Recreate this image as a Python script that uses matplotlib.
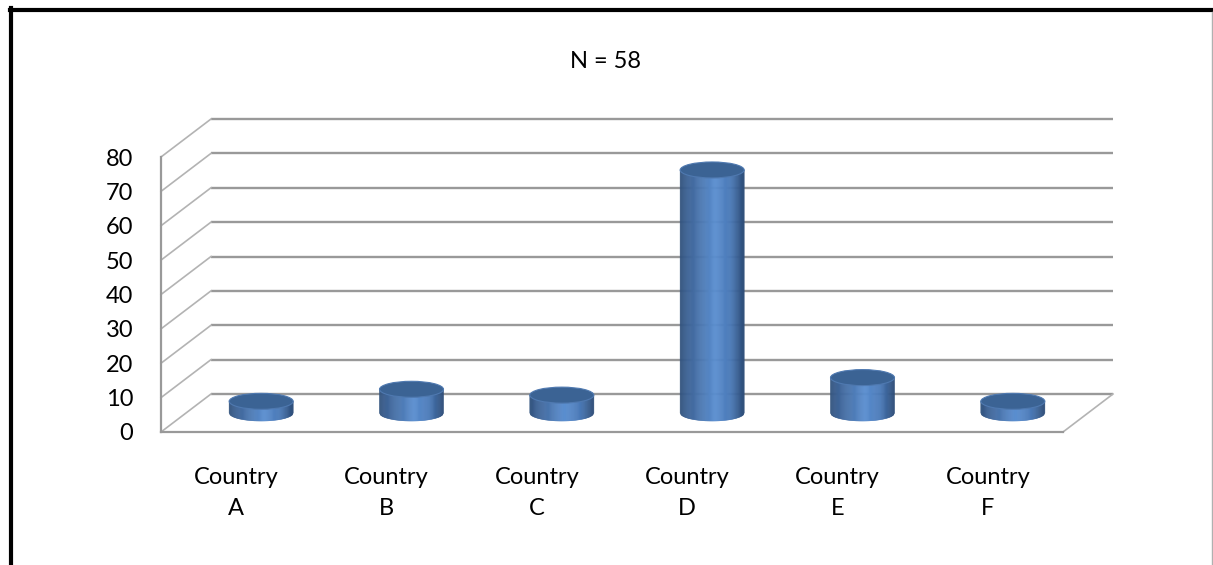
import numpy as np
import matplotlib.pyplot as plt
from matplotlib.collections import PolyCollection
from matplotlib.patches import Ellipse
from matplotlib.colors import LinearSegmentedColormap
from matplotlib.lines import Line2D

plt.rcParams['font.family'] = ['Lato', 'DejaVu Sans']

countries = ['A', 'B', 'C', 'D', 'E', 'F']
values = [3.4, 6.9, 5.2, 70.7, 10.3, 3.4]
yticks = list(range(0, 90, 10))
title = 'N = 58'

W, H = 1213, 565
fig = plt.figure(figsize=(W / 100, H / 100), dpi=100)
fig.patch.set_facecolor('white')

# front plane of the 3d box
ax = fig.add_axes([161 / W, (H - 432) / H, (1063 - 161) / W, (432 - 157) / H])
ax.set_xlim(-0.5, 5.5)
ax.set_ylim(0, 80)
ax.set_facecolor('none')

ax_w = ax.get_position().width * W
ax_h = ax.get_position().height * H
px_x = (6 / ax_w)   # data units per pixel
px_y = (80 / ax_h)

# depth of the box, in data units
dx = 50 * px_x
dy = 38 * px_y

grid_c = '#999999'
side_c = '#b3b3b3'

for sp in ['top', 'right']:
    ax.spines[sp].set_visible(False)
for sp in ['left', 'bottom']:
    ax.spines[sp].set_color(grid_c)
    ax.spines[sp].set_linewidth(1.6)

# back wall gridlines and side wall diagonals
for t in yticks:
    ax.plot([-0.5 + dx, 5.5 + dx], [t + dy, t + dy], color=grid_c, lw=1.7,
            clip_on=False, zorder=1, solid_capstyle='butt')
    ax.plot([-0.5, -0.5 + dx], [t, t + dy], color=side_c, lw=1.2,
            clip_on=False, zorder=1)
ax.plot([5.5, 5.5 + dx], [0, dy], color=side_c, lw=1.2, clip_on=False, zorder=1)

# cylinders
cmap = LinearSegmentedColormap.from_list(
    'cyl', [(0, '#33547f'), (0.12, '#3d6396'), (0.55, '#5a8ed0'),
            (0.8, '#4978b6'), (1, '#2d4d79')])
a = 32 * px_x
b = 8 * px_y
base = dy / 2
for i, v in enumerate(values):
    xc = i + dx / 2
    xs = np.linspace(xc - a, xc + a, 61)
    ybot = base - b * np.sqrt(np.clip(1 - ((xs - xc) / a) ** 2, 0, 1))
    polys = []
    cols = []
    for k in range(len(xs) - 1):
        polys.append([(xs[k], ybot[k]), (xs[k + 1], ybot[k + 1]),
                      (xs[k + 1], base + v), (xs[k], base + v)])
        cols.append(cmap(k / (len(xs) - 2)))
    pc = PolyCollection(polys, facecolors=cols, edgecolors=cols, linewidths=0.4,
                        clip_on=False, zorder=3)
    ax.add_collection(pc)
    ax.add_patch(Ellipse((xc, base + v), 2 * a, 2 * b, facecolor='#3b6394',
                         edgecolor='#4f79b0', lw=0.8, clip_on=False, zorder=4))

ax.set_yticks(yticks)
ax.set_yticklabels([str(t) for t in yticks], fontsize=17)
ax.set_xticks(range(len(countries)))
ax.set_xticklabels(['Country\n' + c for c in countries], fontsize=17,
                   linespacing=1.62)
ax.tick_params(axis='y', length=0, pad=20)
ax.tick_params(axis='x', length=0, pad=25)

fig.text(605 / W, 1 - 62 / H, title, ha='center', va='center', fontsize=17)

# outer frame
fig.add_artist(Line2D([10 / W, 1], [1 - 10 / H, 1 - 10 / H], color='black',
                      lw=3, transform=fig.transFigure))
fig.add_artist(Line2D([11 / W, 11 / W], [0, 1 - 8 / H], color='black',
                      lw=3, transform=fig.transFigure))
fig.add_artist(Line2D([1212 / W, 1212 / W], [0, 1 - 12 / H], color='#b0b0b0',
                      lw=1, transform=fig.transFigure))

fig.savefig('out.png', dpi=100)
